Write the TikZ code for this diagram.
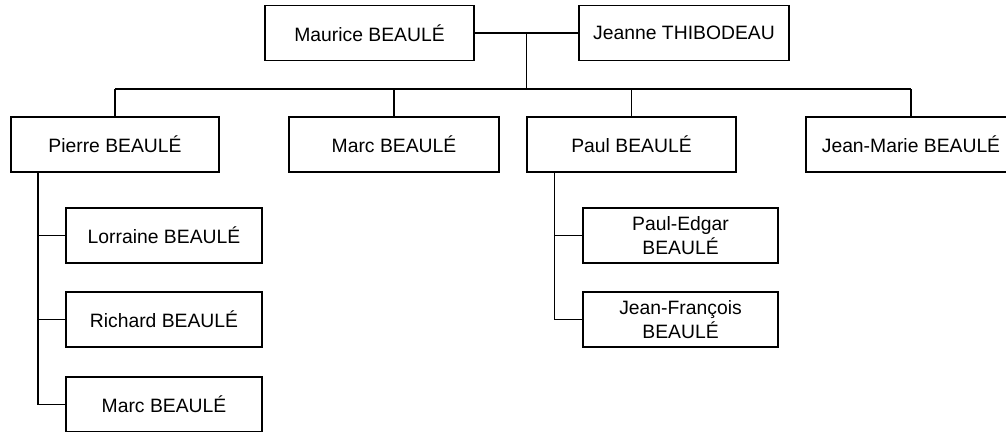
\documentclass[tikz,border=0pt]{standalone}
\usepackage{fontspec}
\setmainfont{Liberation Sans}
\usepackage{tikz}
\usetikzlibrary{positioning, calc}

\tikzset{
	person/.style={draw, rectangle, line width=0.6pt, minimum width=4.18cm, minimum height=1.1cm, align=center, inner sep=2pt, font=\fontsize{11}{13.5}\selectfont},
	grandkid/.style={person, minimum width=3.92cm},
	link/.style={line width=0.6pt}
}

\begin{document}
\begin{tikzpicture}
		\clip (0, 0) rectangle (20.12, 8.62);
		% couple
		\node[person] (maurice) at (7.39, 7.96) {Maurice BEAULÉ};
		\node[person, minimum width=4.2cm] (jeanne) at (13.68, 7.96) {Jeanne THIBODEAU};
		% children
		\node[person, minimum width=4.16cm] (pierre) at (2.30, 5.73) {Pierre BEAULÉ};
		\node[person, minimum width=4.2cm] (marc) at (7.88, 5.73) {Marc BEAULÉ};
		\node[person] (paul) at (12.63, 5.73) {Paul BEAULÉ};
		\node[person, minimum width=4.2cm] (jeanmarie) at (18.22, 5.73) {Jean-Marie BEAULÉ};
		% grandchildren
		\node[grandkid] (lorraine) at (3.28, 3.91) {Lorraine BEAULÉ};
		\node[grandkid] (richard) at (3.28, 2.23) {Richard BEAULÉ};
		\node[grandkid] (marcjr) at (3.28, 0.53) {Marc BEAULÉ};
		\node[grandkid, minimum width=3.9cm] (pauledgar) at (13.61, 3.91) {Paul-Edgar\\BEAULÉ};
		\node[grandkid, minimum width=3.9cm] (jeanfrancois) at (13.61, 2.23) {Jean-François\\BEAULÉ};
		% connectors
		\coordinate (couple) at ($(maurice.east)!0.5!(jeanne.west)$);
		\coordinate (bus) at ($(couple)+(0, -1.12)$);
		\draw[link] (maurice.east) -- (jeanne.west);
		\draw[link] (couple) -- (bus);
		\draw[link] (pierre.north |- bus) -- (jeanmarie.north |- bus);
		\foreach \kid in {pierre, marc, paul, jeanmarie}
			\draw[link] (\kid.north |- bus) -- (\kid.north);
		\coordinate (ptrunk) at ($(pierre.south west)+(0.55, 0)$);
		\coordinate (qtrunk) at ($(paul.south west)+(0.56, 0)$);
		\draw[link] (ptrunk) |- (marcjr.west);
		\foreach \kid in {lorraine, richard}
			\draw[link] (ptrunk |- \kid.west) -- (\kid.west);
		\draw[link] (qtrunk) |- (jeanfrancois.west);
		\draw[link] (qtrunk |- pauledgar.west) -- (pauledgar.west);
	\end{tikzpicture}
\end{document}
